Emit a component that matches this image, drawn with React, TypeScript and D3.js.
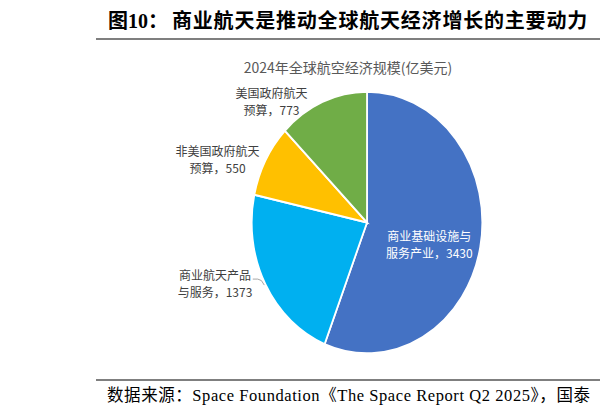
import React, { useEffect, useRef } from 'react';
import * as d3 from 'd3';

// slices in drawing order, clockwise from 12 o'clock
const categories = ['商业基础设施与服务产业', '商业航天产品与服务', '非美国政府航天预算', '美国政府航天预算'];
const values = [3430, 1373, 550, 773];
const colors = ['#4472C4', '#00B0F0', '#FFC000', '#70AD47'];
// where each category name wraps onto the second label line
const splitAt = [7, 6, 7, 6];

const mainTitle = '商业航天是推动全球航天经济增长的主要动力';
const figNo = '图10：';
const chartTitle = '2024年全球航空经济规模(亿美元)';
const sourceText = '数据来源：Space Foundation《The Space Report Q2 2025》，国泰';

const W = 600;
const H = 417;

const App = () => {
  const svgRef = useRef<SVGSVGElement>(null);

  useEffect(() => {
    const svg = d3.select(svgRef.current);
    svg.selectAll('*').remove();

    const cjk = '"Noto Sans CJK SC", sans-serif';
    const serif = '"Liberation Serif", "Noto Sans CJK SC", serif';

    // header
    svg.append('text')
      .attr('x', 108).attr('y', 28)
      .attr('font-family', serif).attr('font-weight', 700).attr('font-size', 20)
      .attr('fill', '#000')
      .text(figNo);
    svg.append('text')
      .attr('x', 172).attr('y', 28)
      .attr('font-family', serif).attr('font-weight', 700).attr('font-size', 20)
      .attr('letter-spacing', 0.8)
      .attr('fill', '#000')
      .text(mainTitle);
    svg.append('line')
      .attr('x1', 96).attr('x2', W).attr('y1', 39).attr('y2', 39)
      .attr('stroke', '#7f7f7f').attr('stroke-width', 2);

    svg.append('text')
      .attr('x', 348).attr('y', 73)
      .attr('text-anchor', 'middle')
      .attr('font-family', cjk).attr('font-size', 14)
      .attr('fill', '#595959')
      .text(chartTitle);

    // footer
    svg.append('line')
      .attr('x1', 96).attr('x2', W).attr('y1', 380).attr('y2', 380)
      .attr('stroke', '#7f7f7f').attr('stroke-width', 2);
    svg.append('text')
      .attr('x', 107).attr('y', 401)
      .attr('font-family', serif).attr('font-size', 16.5)
      .attr('textLength', 483)
      .attr('lengthAdjust', 'spacing')
      .attr('fill', '#000')
      .text(sourceText);

    // pie (slightly elliptical, as in the source)
    const cx = 367, cy = 222.5, rx = 115.3, ry = 130.8;
    const data = categories.map((c, i) => ({ name: c, value: values[i], color: colors[i], split: splitAt[i] }));
    const arcs = d3.pie<any>().sort(null).value(d => d.value)(data);
    const arc = d3.arc<any>().innerRadius(0).outerRadius(ry);

    const g = svg.append('g').attr('transform', `translate(${cx},${cy})`);
    g.append('g')
      .attr('transform', `scale(${rx / ry},1)`)
      .selectAll('path')
      .data(arcs)
      .join('path')
      .attr('d', arc)
      .attr('fill', d => d.data.color)
      .attr('stroke', '#fff')
      .attr('stroke-width', 2);

    const edge = (a: number, k = 1) => [k * rx * Math.sin(a), -k * ry * Math.cos(a)];
    const gaps = [0, 13, 6, 15];
    const lineH = 17;

    arcs.forEach((d, i) => {
      const mid = (d.startAngle + d.endAngle) / 2;
      const name = d.data.name;
      const lines = [name.slice(0, d.data.split), `${name.slice(d.data.split)}，${d.data.value}`];
      const inside = i === 0;

      const t = g.append('text')
        .attr('font-family', cjk).attr('font-size', 12)
        .attr('text-anchor', 'middle')
        .attr('fill', inside ? '#fff' : '#404040');
      t.selectAll('tspan')
        .data(lines)
        .join('tspan')
        .attr('x', 0)
        .attr('y', (_, j) => (j - 0.5) * lineH)
        .attr('dy', '0.35em')
        .text(s => s);

      if (inside) {
        const [px, py] = edge(mid, 0.55);
        t.attr('transform', `translate(${px},${py + 9})`);
        return;
      }
      const [ex, ey] = edge(mid);
      const w = (t.node() as SVGTextElement).getBBox().width;
      const lx = ex - gaps[i] - w / 2;
      t.attr('transform', `translate(${lx},${ey})`);

      if (i === 1) {
        const sx = ex - gaps[i] + 0.5;
        const sy = ey - 5;
        g.append('path')
          .attr('d', `M${sx},${sy}H${sx + 5}Q${sx + 9},${sy} ${ex - 1},${ey + 1}`)
          .attr('fill', 'none')
          .attr('stroke', '#a6a6a6')
          .attr('stroke-width', 1);
      }
    });
  }, []);

  return (
    <svg
      ref={svgRef}
      width={W}
      height={H}
      style={{ position: 'absolute', left: 0, top: 0, background: '#fff' }}
    />
  );
};

export default App;
